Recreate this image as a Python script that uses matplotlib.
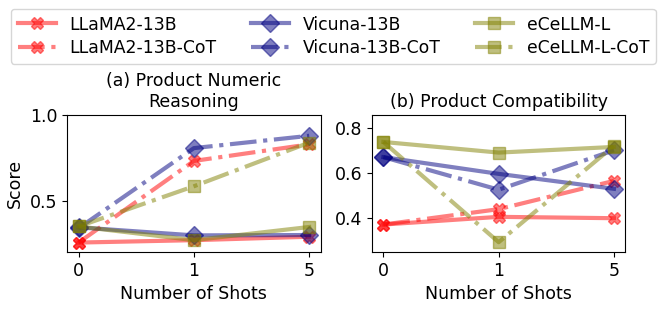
import numpy as np
import matplotlib
matplotlib.use("Agg")
import matplotlib.pyplot as plt

plt.rcParams['font.size'] = 12.5

shots = ['0', '1', '5']
models = ['LLaMA2-13B', 'LLaMA2-13B-CoT', 'Vicuna-13B', 'Vicuna-13B-CoT', 'eCeLLM-L', 'eCeLLM-L-CoT']

# (a) Product Numeric Reasoning
numeric = {
    'LLaMA2-13B':     [0.256, 0.27, 0.29],
    'LLaMA2-13B-CoT': [0.256, 0.733, 0.83],
    'Vicuna-13B':     [0.345, 0.298, 0.30],
    'Vicuna-13B-CoT': [0.34, 0.808, 0.88],
    'eCeLLM-L':       [0.35, 0.27, 0.347],
    'eCeLLM-L-CoT':   [0.35, 0.585, 0.84],
}
# (b) Product Compatibility
compat = {
    'LLaMA2-13B':     [0.372, 0.406, 0.40],
    'LLaMA2-13B-CoT': [0.372, 0.44, 0.565],
    'Vicuna-13B':     [0.67, 0.596, 0.53],
    'Vicuna-13B-CoT': [0.67, 0.526, 0.70],
    'eCeLLM-L':       [0.737, 0.69, 0.715],
    'eCeLLM-L-CoT':   [0.737, 0.294, 0.72],
}

colors = {'LLaMA2': 'red', 'Vicuna': 'navy', 'eCeLLM': 'olive'}
markers = {'LLaMA2': 'X', 'Vicuna': 'D', 'eCeLLM': 's'}

fig = plt.figure(figsize=(6.64, 3.09), dpi=100)
ax1 = fig.add_axes([0.101, 0.184, 0.382, 0.443])
ax2 = fig.add_axes([0.560, 0.184, 0.382, 0.443])

x = np.arange(len(shots))
for ax, data in [(ax1, numeric), (ax2, compat)]:
    for m in models:
        fam = m.split('-')[0]
        ls = '-.' if m.endswith('CoT') else '-'
        ax.plot(x, data[m], color=colors[fam], marker=markers[fam], linestyle=ls,
                linewidth=3, markersize=9, alpha=0.5, label=m)
    ax.set_xticks(x)
    ax.set_xticklabels(shots)
    ax.set_xlabel('Number of Shots')

ax1.set_ylim(0.2, 1.0)
ax1.set_yticks([0.5, 1.0])
ax1.set_ylabel('Score')
ax1.set_title('(a) Product Numeric\nReasoning', fontsize=12.5)
ax2.set_ylim(0.25, 0.855)
ax2.set_yticks([0.4, 0.6, 0.8])
ax2.set_title('(b) Product Compatibility', fontsize=12.5)

handles, labels = ax1.get_legend_handles_labels()
fig.legend(handles, labels, loc='upper center', bbox_to_anchor=(0.502, 1.0), ncol=3,
           fontsize=12.4, handlelength=2.2, columnspacing=2.0, labelspacing=0.3)

fig.savefig('out.png', dpi=100)
